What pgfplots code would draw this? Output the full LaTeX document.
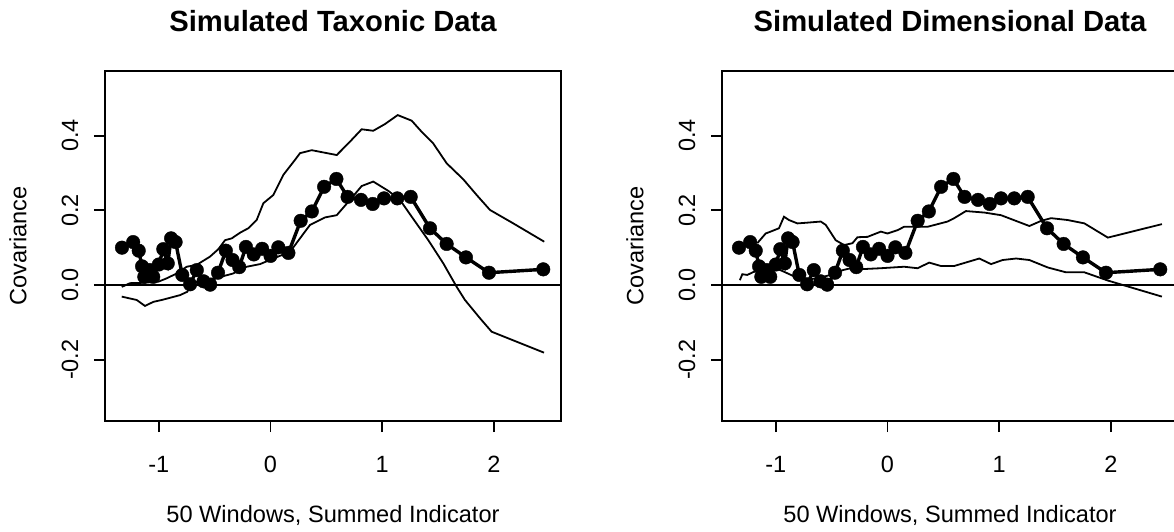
\documentclass[border=0pt]{standalone}
\usepackage{fontspec}
\setmainfont{Liberation Sans}
\usepackage{pgfplots}
\usepackage{pgfplotstable}
\pgfplotsset{compat=1.18}

\pgfplotstableread{
x y
-1.33 0.100
-1.23 0.115
-1.18 0.092
-1.15 0.050
-1.13 0.022
-1.08 0.040
-1.05 0.022
-1.00 0.055
-0.96 0.096
-0.92 0.058
-0.89 0.125
-0.85 0.115
-0.79 0.027
-0.72 0.002
-0.66 0.040
-0.60 0.010
-0.54 0.001
-0.47 0.033
-0.40 0.092
-0.34 0.067
-0.28 0.048
-0.22 0.102
-0.15 0.082
-0.075 0.097
0.00 0.078
0.07 0.101
0.16 0.086
0.27 0.172
0.37 0.197
0.48 0.263
0.59 0.284
0.69 0.236
0.81 0.228
0.915 0.217
1.016 0.232
1.135 0.232
1.255 0.236
1.428 0.152
1.577 0.110
1.750 0.074
1.956 0.033
2.442 0.042
}\dotdata

\pgfplotstableread{
x y
-1.332 -0.005
-1.258 0.005
-1.139 0.006
-1.004 0.009
-0.929 0.018
-0.840 0.031
-0.750 0.049
-0.661 0.054
-0.542 0.076
-0.467 0.096
-0.407 0.120
-0.347 0.125
-0.273 0.140
-0.199 0.152
-0.124 0.174
-0.064 0.219
0.025 0.241
0.115 0.295
0.219 0.335
0.264 0.353
0.369 0.361
0.593 0.348
0.712 0.384
0.816 0.417
0.920 0.413
1.025 0.431
1.139 0.455
1.264 0.440
1.354 0.410
1.457 0.379
1.577 0.326
1.726 0.283
1.846 0.241
1.965 0.201
2.174 0.165
2.451 0.116
}\taxup

\pgfplotstableread{
x y
-1.332 -0.031
-1.258 -0.036
-1.198 -0.040
-1.124 -0.056
-1.049 -0.045
-0.974 -0.040
-0.885 -0.033
-0.810 -0.027
-0.745 -0.018
-0.705 0.005
-0.602 0.013
-0.512 0.018
-0.420 0.024
-0.333 0.031
-0.213 0.049
-0.094 0.056
0.025 0.071
0.175 0.089
0.264 0.125
0.354 0.161
0.488 0.181
0.593 0.187
0.712 0.228
0.816 0.265
0.920 0.277
1.055 0.252
1.159 0.228
1.264 0.183
1.413 0.120
1.547 0.058
1.667 -0.005
1.741 -0.040
1.876 -0.089
1.980 -0.125
2.449 -0.181
}\taxlo

\pgfplotstableread{
x y
-1.166 0.112
-1.091 0.138
-1.047 0.143
-0.972 0.152
-0.927 0.183
-0.882 0.174
-0.807 0.165
-0.717 0.167
-0.598 0.170
-0.553 0.161
-0.464 0.120
-0.389 0.107
-0.314 0.112
-0.269 0.128
-0.179 0.129
-0.060 0.143
0.000 0.138
0.090 0.147
0.149 0.156
0.359 0.156
0.538 0.170
0.597 0.179
0.702 0.198
0.868 0.194
1.016 0.187
1.270 0.158
1.377 0.172
1.465 0.179
1.614 0.174
1.763 0.165
1.973 0.127
2.457 0.163
}\dimup

\pgfplotstableread{
x y
-1.322 0.013
-1.300 0.029
-1.256 0.027
-1.200 0.035
-1.100 0.040
-1.000 0.045
-0.930 0.036
-0.850 0.025
-0.780 0.018
-0.700 0.015
-0.600 0.020
-0.500 0.028
-0.400 0.040
-0.330 0.045
-0.269 0.042
-0.060 0.045
0.149 0.049
0.269 0.045
0.373 0.060
0.478 0.051
0.597 0.051
0.822 0.071
0.927 0.056
1.031 0.067
1.151 0.071
1.270 0.067
1.435 0.047
1.599 0.034
1.763 0.034
1.973 0.012
2.457 -0.031
}\dimlo

\pgfplotsset{
  panel/.style={
    at={(#1)}, anchor=south west,
    scale only axis, width=456pt, height=350pt,
    xmin=-1.482, xmax=2.601, ymin=-0.364, ymax=0.573,
    axis line style={line width=1.8pt},
    xtick={-1,0,1,2}, xticklabels={-1,0,1,2},
    ytick={-0.2,0,0.2,0.4}, yticklabels={-0.2,0.0,0.2,0.4},
    tick pos=left, tick align=outside, major tick length=11pt,
    major tick style={line width=1.8pt, black},
    ticklabel style={font=\fontsize{23.5}{28}\selectfont},
    xticklabel shift=21pt,
    yticklabel shift=12pt,
    yticklabel style={rotate=90, anchor=south},
    xlabel={50 Windows, Summed Indicator},
    ylabel={Covariance},
    label style={font=\fontsize{23.6}{28}\selectfont},
    xlabel style={at={(axis description cs:0.5,-0.2686)}, anchor=center},
    ylabel style={at={(axis description cs:-0.191,0.5)}, anchor=center},
    title style={at={(axis description cs:0.5,1.126)}, anchor=center,
      font=\fontsize{29.2}{34}\selectfont\bfseries},
    clip=false,
  },
  curveline/.style={black, line width=1.8pt, no markers},
  dotline/.style={black, line width=3.4pt, mark=*, mark size=6.8pt,
    mark options={solid, fill=black, draw=black, line width=0.4pt}},
}

\begin{document}
\begin{tikzpicture}[x=1pt,y=1pt]
\begin{axis}[panel={105pt,110pt}, title={Simulated Taxonic Data}]
\addplot[curveline, line width=1.6pt] coordinates {(-1.482,0) (2.601,0)};
\addplot[curveline] table[x=x,y=y] {\taxup};
\addplot[curveline] table[x=x,y=y] {\taxlo};
\addplot[dotline] table[x=x,y=y] {\dotdata};
\end{axis}
\begin{axis}[panel={722pt,110pt}, title={Simulated Dimensional Data}]
\addplot[curveline, line width=1.6pt] coordinates {(-1.482,0) (2.601,0)};
\addplot[curveline] table[x=x,y=y] {\dimup};
\addplot[curveline] table[x=x,y=y] {\dimlo};
\addplot[dotline] table[x=x,y=y] {\dotdata};
\end{axis}
\pgfresetboundingbox
\path[use as bounding box] (0pt,0pt) rectangle (1174pt,531pt);
\end{tikzpicture}
\end{document}
